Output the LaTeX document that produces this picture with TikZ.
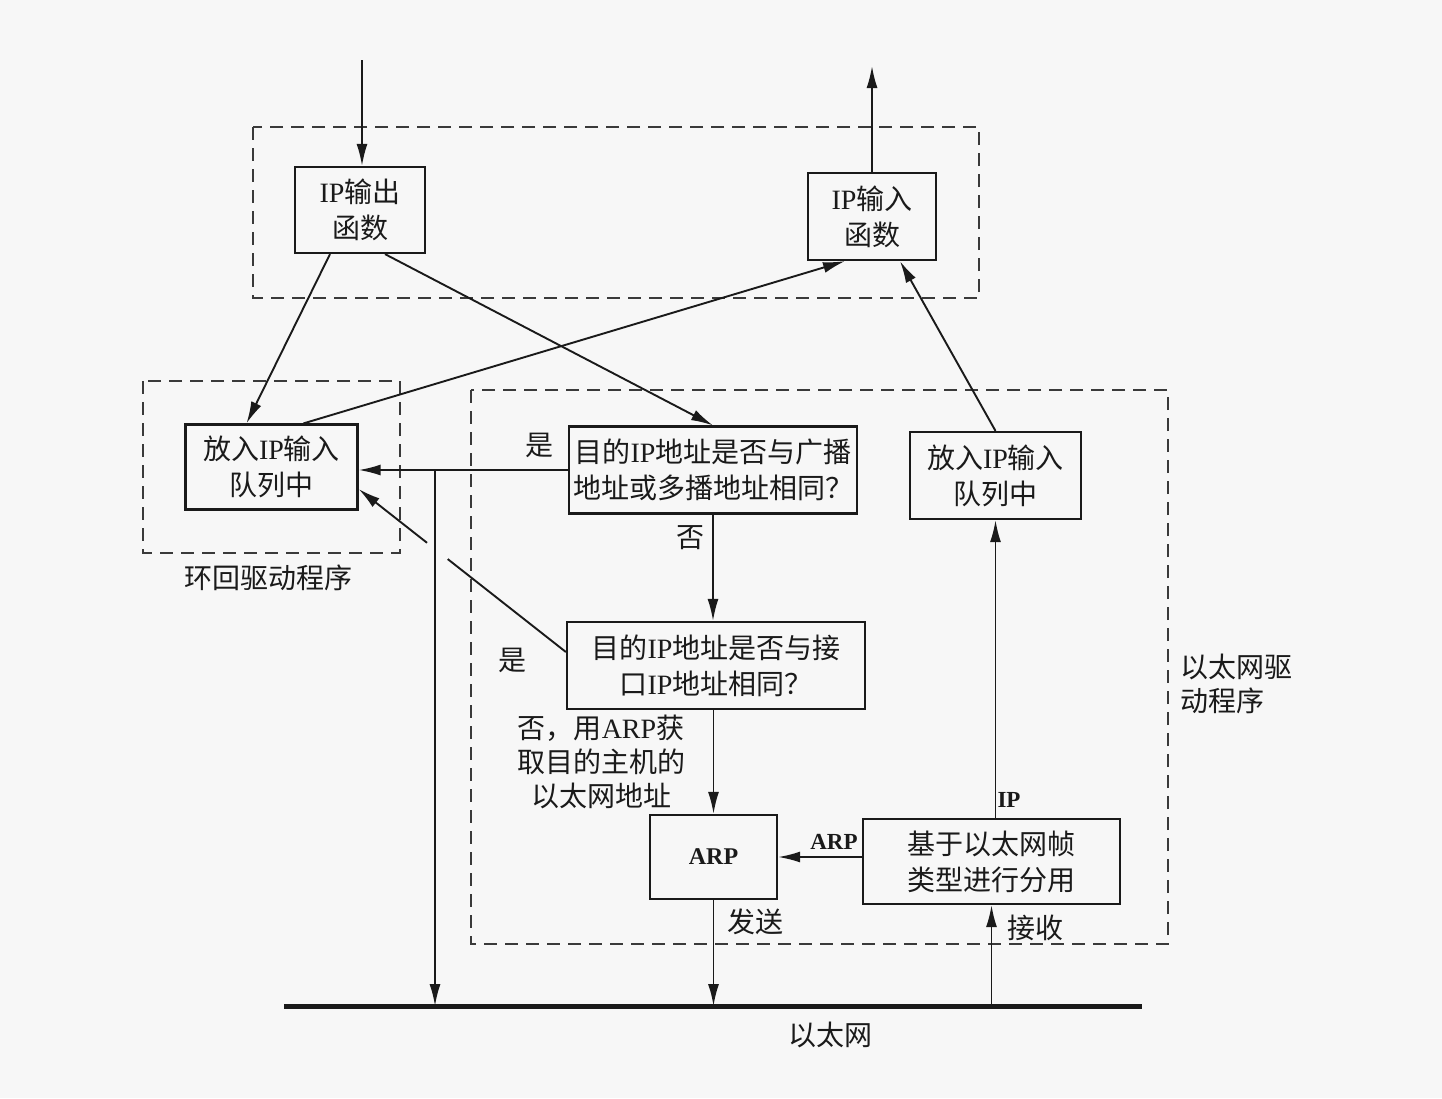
\documentclass[tikz,border=0pt]{standalone}
\usepackage{fontspec}
\setmainfont{Liberation Serif}
\newfontfamily\cjk{Noto Sans CJK SC}
\usetikzlibrary{arrows.meta,calc}
\definecolor{ink}{HTML}{1A1A1A}
\definecolor{dash}{HTML}{3A3A3A}
\begin{document}
\begin{tikzpicture}[x=1pt,y=-1pt,
  box/.style={draw=ink, line width=2.2pt, inner sep=0pt, align=center, text=ink,
    font=\cjk\fontsize{28}{36}\selectfont},
  arr/.style={draw=ink, line width=1.9pt, -{Latex[length=22pt,width=11pt]}},
  plain/.style={draw=ink, line width=1.9pt},
  dashbox/.style={draw=dash, line width=2.2pt, dash pattern=on 13pt off 8pt},
  lbl/.style={text=ink, inner sep=0pt, align=center, font=\cjk\fontsize{28}{34}\selectfont},
  blbl/.style={text=ink, inner sep=0pt, font=\rmfamily\bfseries\fontsize{23}{26}\selectfont},
  ethline/.style={draw=ink, line width=5pt}
]
\useasboundingbox (0,0) rectangle (1442,1098);
\fill[white!97!black] (0,0) rectangle (1442,1098);

% dashed enclosures
\draw[dashbox] (253,127) rectangle (979,298);
\draw[dashbox] (143,381) rectangle (400,553);
\draw[dashbox] (471,390) rectangle (1168,944);

% boxes
\node[box, minimum width=130pt, minimum height=86pt] (outf) at (360,210) {{\rmfamily IP}输出\\函数};
\node[box, minimum width=128pt, minimum height=87pt] (inf) at (872,216.5) {{\rmfamily IP}输入\\函数};
\node[box, minimum width=172pt, minimum height=85pt] (lq) at (271.5,467) {放入{\rmfamily IP}输入\\队列中};
\node[box, minimum width=288pt, minimum height=87pt] (bq) at (713,470) {目的{\rmfamily IP}地址是否与广播\\地址或多播地址相同？};
\node[box, minimum width=171pt, minimum height=87pt] (rq) at (995.5,475.5) {放入{\rmfamily IP}输入\\队列中};
\node[box, minimum width=298pt, minimum height=87pt] (iq) at (716,665.5) {目的{\rmfamily IP}地址是否与接\\口{\rmfamily IP}地址相同？};
\node[box, minimum width=127pt, minimum height=84pt, font=\rmfamily\bfseries\fontsize{24}{26}\selectfont] (arp) at (713.5,857) {ARP};
\node[box, minimum width=257pt, minimum height=85pt] (dm) at (991.5,861.5) {基于以太网帧\\类型进行分用};

% ethernet
\coordinate (e1) at (284,1006);
\coordinate (e2) at (1142,1006);
\coordinate (lb) at (435,1006);
\draw[ethline] (e1) -- (e2);

% free ends
\coordinate (in) at (362,60);
\coordinate (out) at (872,66);

% connectors
\draw[arr] (in) -- (in |- outf.north);
\draw[arr] (inf.north) -- (out);
\draw[arr] ([xshift=-30pt]outf.south) -- ([xshift=-25pt]lq.north);
\draw[arr] ([xshift=25pt]outf.south) -- (bq.north);
\draw[arr] ([xshift=32pt]lq.north) -- ([xshift=-27pt]inf.south);
\draw[arr] (rq.north) -- ([xshift=28pt]inf.south);
\draw[arr] (bq.west) -- (bq.west -| lq.east);
\draw[arr] (bq.west -| lb) -- (lb);
\draw[arr] (bq.south) -- (bq.south |- iq.north);
\coordinate (d1) at ([yshift=13.5pt]iq.west);
\coordinate (d2) at ([yshift=-22pt]lq.east);
\draw[plain] (d1) -- ($(d1)!0.57!(d2)$);
\draw[arr] ($(d1)!0.67!(d2)$) -- (d2);
\draw[arr] (arp.north |- iq.south) -- (arp.north);
\draw[arr] (arp.east -| dm.west) -- (arp.east);
\draw[arr] (rq.south |- dm.north) -- (rq.south);
\draw[arr] (arp.south) -- (arp.south |- e1);
\draw[arr] (dm.south |- e1) -- (dm.south);

% labels
\node[lbl] (l1) at (539,445) {是};
\node[lbl] (l2) at (690,538) {否};
\node[lbl] (l3) at (512,660) {是};
\node[lbl] (l4) at (601,762) {否，用{\rmfamily ARP}获\\取目的主机的\\以太网地址};
\node[blbl] (l5) at (834,842) {ARP};
\node[blbl] (l6) at (1009,800) {IP};
\node[lbl] (l7) at (755,922) {发送};
\node[lbl] (l8) at (1035,928) {接收};
\node[lbl] (l9) at (268,578) {环回驱动程序};
\node[lbl, align=left, anchor=west] (l10) at (1180,684) {以太网驱\\动程序};
\node[lbl] (l11) at (830,1035) {以太网};
\end{tikzpicture}
\end{document}
